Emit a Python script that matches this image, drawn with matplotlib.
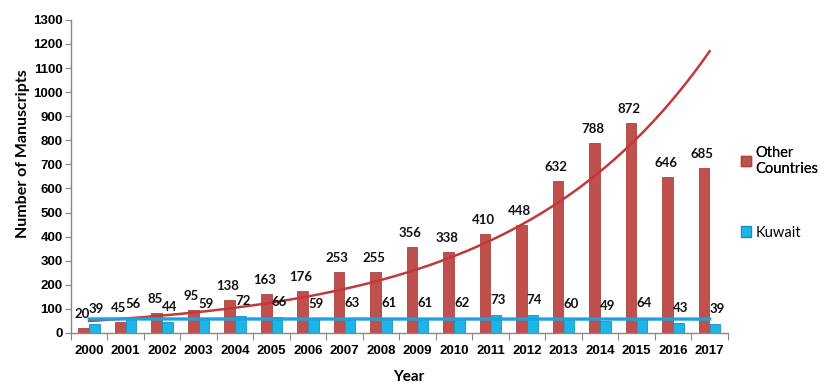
import numpy as np
import matplotlib
matplotlib.use("Agg")
import matplotlib.pyplot as plt
from matplotlib.patches import Patch

years = [str(y) for y in range(2000, 2018)]
other = [20, 45, 85, 95, 138, 163, 176, 253, 255, 356, 338, 410, 448, 632, 788, 872, 646, 685]
kuwait = [39, 56, 44, 59, 72, 66, 59, 63, 61, 61, 62, 73, 74, 60, 49, 64, 43, 39]
yticks = list(range(0, 1400, 100))

RED = "#C0504D"
BLUE = "#1DB5E6"
RED_LINE = "#C0393B"
BLUE_LINE = "#1AA3E0"

fig = plt.figure(figsize=(8.4, 3.89), dpi=100)
ax = fig.add_axes([0.0845, 0.144, 0.782, 0.805])

x = np.arange(len(years))
w = 0.29
off = 0.15
ax.bar(x - off, other, width=w, color=RED, edgecolor="#A94440", linewidth=0.6, zorder=2)
ax.bar(x + off, kuwait, width=w, color=BLUE, edgecolor="#1592C0", linewidth=0.6, zorder=2)

# trend lines (Excel-style): exponential for Other, linear for Kuwait
xt = np.linspace(0, len(years) - 1, 200)
b, a = np.polyfit(x, np.log(other), 1)
ax.plot(xt, np.exp(a + b * xt), color=RED_LINE, lw=1.8, zorder=3)
k1, k0 = np.polyfit(x, kuwait, 1)
ax.plot(xt, k0 + k1 * xt, color=BLUE_LINE, lw=2.4, zorder=3)

lab_font = dict(family=["Lato", "DejaVu Sans"], fontweight="bold", fontsize=9.5, color="#111111")
for i in range(len(years)):
    ax.annotate(str(other[i]), (x[i] - off, other[i]), xytext=(-2, 14), textcoords="offset pixels",
                ha="center", va="center", zorder=4, **lab_font)
    ax.annotate(str(kuwait[i]), (x[i] + off, kuwait[i]), xytext=(2, 15), textcoords="offset pixels",
                ha="center", va="center", zorder=4, **lab_font)

ax.set_xlim(-0.5, len(years) - 0.5)
ax.set_ylim(0, 1300)
ax.set_yticks(yticks)
ax.set_yticklabels([str(t) for t in yticks], family="Liberation Sans", fontweight="bold", fontsize=9.5)
ax.set_xticks(np.arange(-0.5, len(years), 1.0))
ax.set_xticklabels([])
ax.set_xticks(x, minor=True)
ax.set_xticklabels(years, minor=True, family="Liberation Sans", fontweight="bold", fontsize=9.5)
ax.tick_params(axis="x", which="major", length=5, color="#888888")
ax.tick_params(axis="x", which="minor", length=0, pad=9)
ax.tick_params(axis="y", length=4, color="#888888", pad=2)

for s in ["top", "right"]:
    ax.spines[s].set_visible(False)
for s in ["left", "bottom"]:
    ax.spines[s].set_color("#888888")
    ax.spines[s].set_linewidth(1.0)

fig.text(23 / 840, 1 - 154 / 389, "Number of Manuscripts", family=["Lato", "DejaVu Sans"],
         fontweight="bold", fontsize=11.5, rotation=90, ha="center", va="center")
fig.text(0.487, 0.03, "Year", family=["Lato", "DejaVu Sans"], fontweight="bold", fontsize=11,
         ha="center", va="center")

handles = [Patch(facecolor=RED, edgecolor="#A94440"), Patch(facecolor=BLUE, edgecolor="#1592C0")]
leg_font = dict(family=["Lato", "DejaVu Sans"], size=10.5)
l1 = fig.legend([handles[0]], ["Other\nCountries"], loc="upper left", bbox_to_anchor=(0.875, 0.64),
                frameon=False, prop=leg_font, handlelength=0.7, handleheight=0.7, handletextpad=0.3,
                borderaxespad=0)
l2 = fig.legend([handles[1]], ["Kuwait"], loc="upper left", bbox_to_anchor=(0.875, 0.435),
                frameon=False, prop=leg_font, handlelength=0.7, handleheight=0.7, handletextpad=0.3,
                borderaxespad=0)
fig.add_artist(l1)

fig.savefig("out.png", dpi=100)
